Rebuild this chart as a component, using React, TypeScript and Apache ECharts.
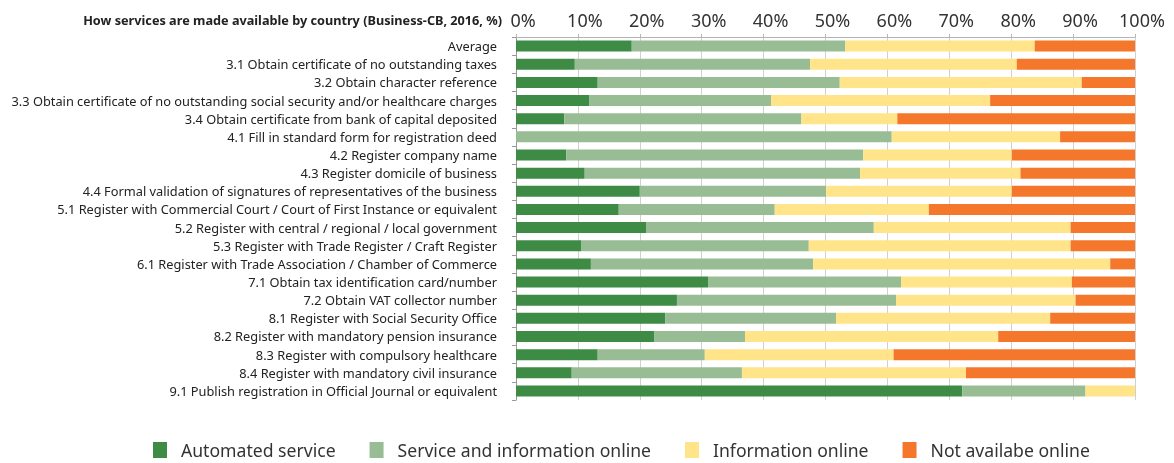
import React, { useEffect, useRef } from "react";
import * as echarts from "echarts";

const categories = [
  "Average",
  "3.1 Obtain certificate of no outstanding taxes",
  "3.2 Obtain character reference",
  "3.3 Obtain certificate of no outstanding social security and/or healthcare charges",
  "3.4 Obtain certificate from bank of capital deposited",
  "4.1 Fill in standard form for registration deed",
  "4.2 Register company name",
  "4.3 Register domicile of business",
  "4.4 Formal validation of signatures of representatives of the business",
  "5.1 Register with Commercial Court / Court of First Instance or equivalent",
  "5.2 Register with central / regional / local government",
  "5.3 Register with Trade Register / Craft Register",
  "6.1 Register with Trade Association / Chamber of Commerce",
  "7.1 Obtain tax identification card/number",
  "7.2 Obtain VAT collector number",
  "8.1 Register with Social Security Office",
  "8.2 Register with mandatory pension insurance",
  "8.3 Register with compulsory healthcare",
  "8.4 Register with mandatory civil insurance",
  "9.1 Publish registration in Official Journal or equivalent",
];

const automated = [18.7, 9.5, 13.2, 11.8, 7.8, 0, 8.1, 11.1, 20.0, 16.6, 21.0, 10.5, 12.1, 31.1, 26.0, 24.1, 22.3, 13.2, 9.0, 72.1];
const serviceInfo = [34.5, 38.0, 39.1, 29.4, 38.3, 60.7, 48.0, 44.5, 30.1, 25.2, 36.8, 36.8, 35.9, 31.1, 35.4, 27.6, 14.7, 17.3, 27.5, 19.9];
const infoOnline = [30.6, 33.4, 39.1, 35.4, 15.5, 27.2, 24.0, 25.9, 30.0, 24.9, 31.8, 42.3, 48.0, 27.6, 29.0, 34.6, 40.9, 30.5, 36.2, 8.0];
const notOnline = [16.2, 19.1, 8.6, 23.4, 38.4, 12.1, 19.9, 18.5, 19.9, 33.3, 10.4, 10.4, 4.0, 10.2, 9.6, 13.7, 22.1, 39.0, 27.3, 0];

const seriesNames = ["Automated service", "Service and information online", "Information online", "Not availabe online"];
const seriesColors = ["#3e8b46", "#98bd95", "#ffe48a", "#f4772b"];
const titleText = "How services are made available by country (Business-CB, 2016, %)";

const FONT = "'Noto Sans', sans-serif";

export default function App() {
  const ref = useRef<HTMLDivElement>(null);
  useEffect(() => {
    if (!ref.current) return;
    const chart = echarts.init(ref.current, undefined, { renderer: "svg" });
    const data = [automated, serviceInfo, infoOnline, notOnline];
    chart.setOption({
      animation: false,
      textStyle: { fontFamily: FONT },
      title: {
        text: titleText,
        left: 497,
        top: 8,
        textAlign: "right",
        textStyle: { fontSize: 12.7, fontWeight: "bold", color: "#222", fontFamily: FONT },
      },
      legend: {
        top: 436,
        left: 148,
        itemWidth: 14,
        itemHeight: 16,
        itemGap: 34,
        icon: "rect",
        textStyle: { fontSize: 17.6, lineHeight: 18, color: "#333", fontFamily: FONT, padding: [0, 0, 0, 9] },
        data: seriesNames,
      },
      grid: { left: 516, right: 39, top: 37, bottom: 63, containLabel: false },
      xAxis: {
        type: "value",
        position: "top",
        min: 0,
        max: 100,
        interval: 10,
        axisLine: { show: true, lineStyle: { color: "#b5b5b5" } },
        axisTick: { show: true, length: 3, lineStyle: { color: "#b5b5b5" } },
        splitLine: { show: true, lineStyle: { color: "#d0d0d0", width: 1 } },
        axisLabel: {
          formatter: "{value}%",
          fontSize: 18,
          color: "#333",
          margin: 8,
          padding: [0, 0, 0, 14],
          fontFamily: FONT,
        },
      },
      yAxis: {
        type: "category",
        inverse: true,
        data: categories,
        axisLine: { show: true, lineStyle: { color: "#999" } },
        axisTick: { show: true, length: 4, lineStyle: { color: "#999" } },
        axisLabel: { fontSize: 12.8, color: "#222", margin: 19, fontFamily: FONT },
      },
      series: seriesNames.map((name, i) => ({
        name,
        type: "bar",
        stack: "total",
        barWidth: 11,
        data: data[i],
        itemStyle: { color: seriesColors[i] },
      })),
    });
    return () => chart.dispose();
  }, []);
  return <div ref={ref} style={{ position: "fixed", left: 0, top: 0, width: 1174, height: 463 }} />;
}
